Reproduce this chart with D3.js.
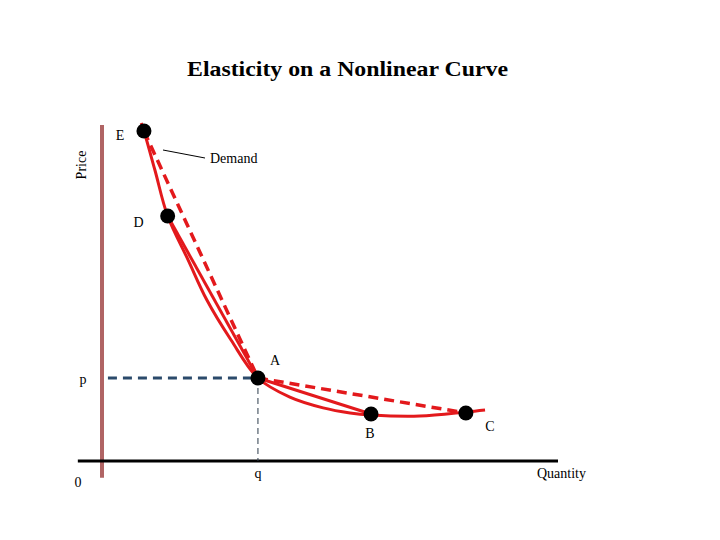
<!DOCTYPE html>
<html>
<head>
<meta charset="utf-8">
<script src="https://cdn.jsdelivr.net/npm/d3@7"></script>
<style>
  body { margin: 0; background: #fff; }
  svg { display: block; font-family: "Liberation Serif", "Times New Roman", serif; }
</style>
</head>
<body>
<svg id="chart"></svg>
<script>
// demand curve (quantity, price)
var demandQ = [0.86, 0.92, 1.16, 1.44, 1.89, 2.30, 2.83, 3.42, 4.12, 4.85, 5.44, 5.90, 6.97, 7.98, 8.40];
var demandP = [10.06, 9.82, 8.66, 7.29, 5.98, 4.79, 3.60, 2.47, 1.90, 1.58, 1.43, 1.37, 1.34, 1.46, 1.52];

// labelled points on the curve
var pointNames = ["E", "D", "A", "B", "C"];
var pointQ = [0.92, 1.44, 3.42, 5.90, 7.98];
var pointP = [9.82, 7.29, 2.47, 1.40, 1.43];

// chords drawn between points: [from, to, dashed]
var chords = [["D", "A", false], ["A", "B", false], ["E", "A", true], ["A", "C", true]];

var title = "Elasticity on a Nonlinear Curve";

var width = 720, height = 540;
var svg = d3.select("#chart").attr("width", width).attr("height", height);

var x = d3.scaleLinear().domain([0, 10]).range([102, 558]);
var y = d3.scaleLinear().domain([0, 10]).range([461, 125]);

var red = "#e3191c";

var pts = {};
pointNames.forEach(function(n, i) { pts[n] = [pointQ[i], pointP[i]]; });

// title
svg.append("text")
    .attr("x", 187).attr("y", 76)
    .attr("font-size", 20).attr("font-weight", "bold")
    .attr("textLength", 321).attr("lengthAdjust", "spacingAndGlyphs")
    .text(title);

// axes
svg.append("line")
    .attr("x1", x(0)).attr("x2", x(0))
    .attr("y1", y(10)).attr("y2", y(-0.5))
    .attr("stroke", "#b06464").attr("stroke-width", 4);
svg.append("line")
    .attr("x1", x(-0.53)).attr("x2", x(10))
    .attr("y1", y(0)).attr("y2", y(0))
    .attr("stroke", "#000").attr("stroke-width", 3);

// reference lines to p and q
var A = pts.A;
svg.append("line")
    .attr("x1", x(0.13)).attr("x2", x(A[0]))
    .attr("y1", y(A[1])).attr("y2", y(A[1]))
    .attr("stroke", "#2b4a6b").attr("stroke-width", 3)
    .attr("stroke-dasharray", "9,6");
svg.append("line")
    .attr("x1", x(A[0])).attr("x2", x(A[0]))
    .attr("y1", y(A[1])).attr("y2", y(0))
    .attr("stroke", "#2b3a4a").attr("stroke-width", 1)
    .attr("stroke-dasharray", "6,4");

// demand curve
var line = d3.line()
    .x(function(d) { return x(d[0]); })
    .y(function(d) { return y(d[1]); })
    .curve(d3.curveCatmullRom.alpha(0.5));
svg.append("path")
    .attr("d", line(d3.zip(demandQ, demandP)))
    .attr("fill", "none").attr("stroke", red).attr("stroke-width", 3);

// chords
chords.forEach(function(c) {
  var a = pts[c[0]], b = pts[c[1]];
  svg.append("line")
      .attr("x1", x(a[0])).attr("y1", y(a[1]))
      .attr("x2", x(b[0])).attr("y2", y(b[1]))
      .attr("stroke", red)
      .attr("stroke-width", c[2] ? 3.5 : 3)
      .attr("stroke-dasharray", c[2] ? "10,6" : null);
});

// points
svg.selectAll("circle.pt")
    .data(pointNames)
    .join("circle")
    .attr("class", "pt")
    .attr("cx", function(d) { return x(pts[d][0]); })
    .attr("cy", function(d) { return y(pts[d][1]); })
    .attr("r", 7.5)
    .attr("fill", "#000");

// point labels
var labelOffset = { E: [-24, 9], D: [-29, 11], A: [17, -13], B: [-1, 24], C: [24, 18] };
svg.selectAll("text.pt")
    .data(pointNames)
    .join("text")
    .attr("class", "pt")
    .attr("x", function(d) { return x(pts[d][0]) + labelOffset[d][0]; })
    .attr("y", function(d) { return y(pts[d][1]) + labelOffset[d][1]; })
    .attr("text-anchor", "middle")
    .attr("font-size", 14)
    .text(function(d) { return d; });

// demand label and leader
svg.append("line")
    .attr("x1", 163).attr("y1", 150).attr("x2", 205).attr("y2", 158)
    .attr("stroke", "#000").attr("stroke-width", 1);
svg.append("text").attr("x", 210).attr("y", 163).attr("font-size", 14).text("Demand");

// axis labels
svg.append("text")
    .attr("transform", "translate(86,165) rotate(-90)")
    .attr("text-anchor", "middle").attr("font-size", 14).text("Price");
svg.append("text").attr("x", 537).attr("y", 478).attr("font-size", 14).text("Quantity");
svg.append("text").attr("x", 78).attr("y", 487).attr("text-anchor", "middle").attr("font-size", 14).text("0");
svg.append("text").attr("x", 83).attr("y", 384).attr("text-anchor", "middle").attr("font-size", 14).text("p");
svg.append("text").attr("x", x(A[0])).attr("y", 478).attr("text-anchor", "middle").attr("font-size", 14).text("q");
</script>
</body>
</html>
